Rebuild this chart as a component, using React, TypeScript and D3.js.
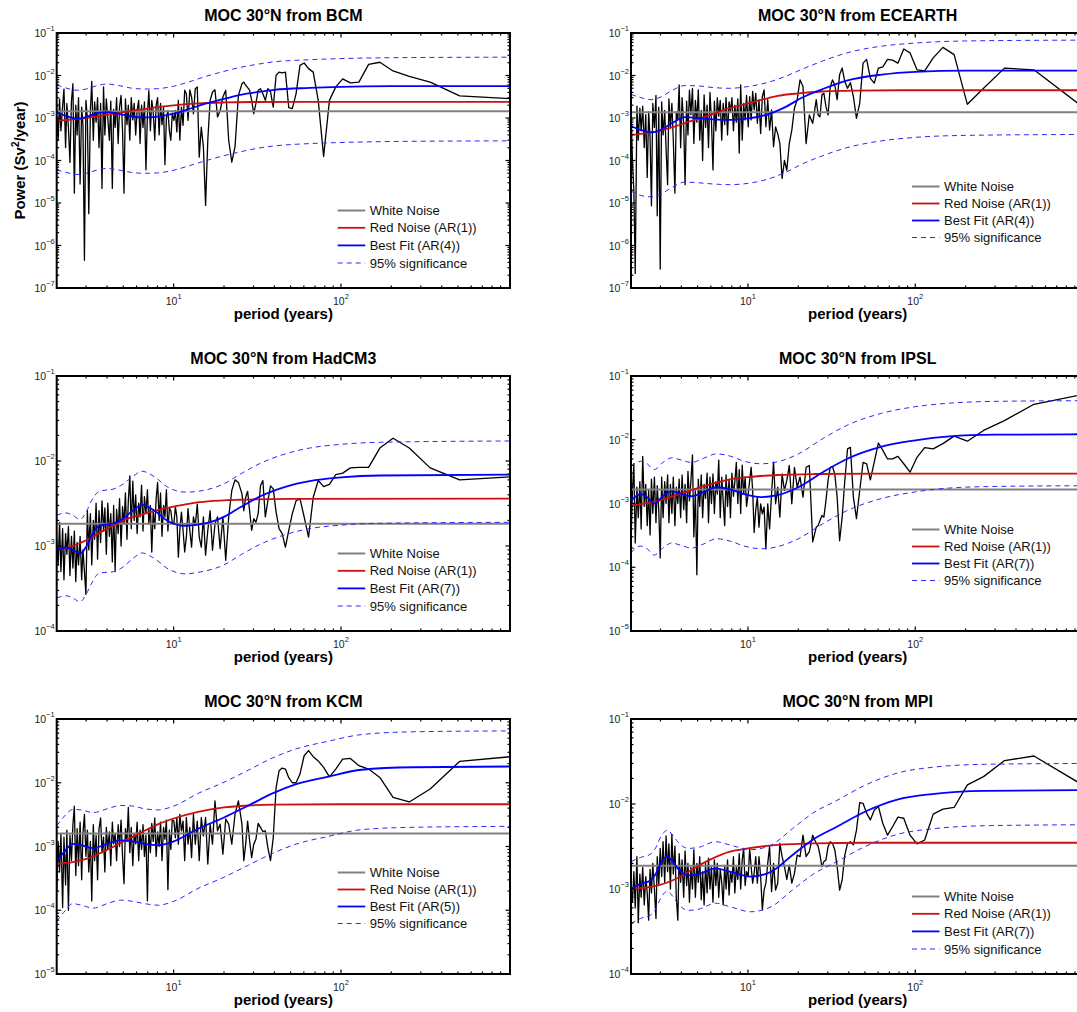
import React from 'react';
import * as d3 from 'd3';

type Pt = [number, number];

// Periods (years) of the spectral estimates, shared by all six models.
const periods: number[] = [
  2.00, 2.04, 2.08, 2.12, 2.17, 2.21, 2.26, 2.30, 2.35, 2.40,
  2.45, 2.50, 2.55, 2.60, 2.65, 2.70, 2.76, 2.82, 2.87, 2.93,
  2.99, 3.05, 3.11, 3.18, 3.24, 3.31, 3.37, 3.44, 3.51, 3.58,
  3.66, 3.73, 3.81, 3.88, 3.96, 4.04, 4.13, 4.21, 4.30, 4.38,
  4.47, 4.56, 4.66, 4.75, 4.85, 4.95, 5.05, 5.15, 5.26, 5.36,
  5.47, 5.58, 5.70, 5.81, 5.93, 6.05, 6.18, 6.30, 6.43, 6.56,
  6.69, 6.83, 6.97, 7.11, 7.26, 7.40, 7.55, 7.71, 7.86, 8.02,
  8.19, 8.35, 8.52, 8.70, 8.87, 9.05, 9.24, 9.43, 9.62, 9.81,
  10.04, 10.24, 10.45, 10.67, 10.89, 11.13, 11.38, 11.64, 11.91, 12.19,
  12.49, 12.80, 13.13, 13.47, 13.84, 14.22, 14.63, 15.06, 15.52, 16.00,
  16.52, 17.07, 17.66, 18.29, 18.96, 19.69, 20.48, 21.33, 22.26, 23.27,
  24.38, 25.60, 26.26, 26.95, 27.68, 28.44, 29.26, 30.12, 31.03, 32.00,
  33.03, 34.13, 35.31, 36.57, 37.93, 39.38, 40.96, 42.67, 44.52, 46.55,
  48.76, 51.20, 53.89, 56.89, 60.24, 64.00, 68.27, 73.14, 78.77, 85.33,
  93.09, 102.4, 113.8, 128.0, 146.3, 170.7, 204.8, 256.0, 341.3, 512.0,
  1024,
];

// Spectral power (Sv^2/year), one value per period.
const bcmPower: number[] = [
  1.2e-3, 3.0e-4, 2.8e-3, 5.0e-4, 1.9e-3, 4.8e-3, 2.0e-4, 2.2e-3, 6.0e-4, 9.0e-5,
  2.5e-3, 6.4e-3, 1.7e-5, 2.0e-3, 4.0e-4, 3.0e-3, 2.8e-5, 1.8e-3, 7.0e-4, 4.5e-7,
  2.6e-3, 1.0e-3, 5.6e-6, 1.5e-3, 7.3e-3, 3.0e-4, 2.4e-3, 8.0e-4, 3.0e-3, 2.0e-4,
  2.2e-3, 2.2e-5, 5.4e-3, 4.0e-4, 2.8e-3, 1.0e-3, 3.0e-4, 2.5e-3, 2.2e-5, 1.6e-3,
  6.0e-4, 3.0e-3, 2.5e-4, 1.8e-3, 3.4e-3, 5.0e-4, 1.7e-5, 2.8e-3, 7.0e-4, 2.0e-3,
  3.0e-4, 3.0e-3, 9.0e-4, 2.2e-3, 4.0e-4, 1.5e-3, 2.6e-3, 2.5e-4, 2.0e-3, 6.0e-4,
  2.4e-3, 6.0e-5, 1.2e-3, 4.4e-3, 5.0e-4, 2.6e-3, 1.4e-3, 3.0e-4, 2.0e-3, 3.0e-3,
  4.0e-4, 2.2e-3, 7.0e-4, 1.8e-3, 8.0e-5, 1.0e-3, 1.5e-3, 5.0e-4, 3.0e-4, 1.3e-3,
  8.8e-4, 1.5e-3, 4.7e-4, 2.6e-3, 3.0e-4, 1.8e-3, 6.7e-4, 4.5e-3, 3.7e-3, 8.8e-4,
  4.6e-3, 3.1e-3, 1.26e-3, 4.9e-3, 5.4e-3, 1.2e-4, 6.1e-4, 2.1e-4, 8.8e-6, 3.0e-4,
  2.6e-3, 4.1e-3, 4.6e-3, 1.06e-3, 1.5e-3, 3.1e-3, 4.5e-3, 3.0e-4, 9.2e-5, 2.1e-4,
  3.4e-3, 6.4e-3, 7.0e-3, 5.9e-3, 5.2e-3, 4.5e-3, 2.6e-3, 1.26e-3, 2.2e-3, 4.5e-3,
  4.9e-3, 3.7e-3, 2.6e-3, 4.9e-3, 4.1e-3, 1.8e-3, 1.01e-2, 1.2e-2, 1.15e-2, 1.2e-2,
  1.75e-3, 1.66e-3, 3.7e-3, 1.73e-2, 1.97e-2, 1.45e-2, 1.2e-2, 2.6e-3, 1.25e-4, 2.6e-3,
  5.4e-3, 8.3e-3, 6.7e-3, 7.0e-3, 1.83e-2, 2.05e-2, 1.28e-2, 9.5e-3, 7.0e-3, 3.3e-3,
  2.85e-3,
];

const ecearthPower: number[] = [
  1.8e-3, 1.0e-4, 2.0e-5, 2.2e-7, 1.9e-3, 3.0e-4, 1.7e-3, 5.0e-4, 1.9e-3, 2.0e-4,
  1.2e-3, 4.0e-5, 1.4e-3, 3.5e-4, 8.6e-6, 2.2e-3, 6.0e-4, 3.4e-3, 5.0e-6, 1.8e-3,
  2.8e-7, 2.4e-3, 4.0e-4, 1.5e-3, 2.0e-4, 2.7e-5, 2.8e-3, 6.0e-4, 2.2e-3, 3.0e-4,
  1.7e-5, 1.4e-3, 9.0e-4, 6.0e-3, 2.0e-4, 3.0e-3, 7.0e-4, 2.7e-5, 2.5e-3, 4.0e-4,
  4.5e-3, 1.2e-3, 5.0e-3, 2.5e-4, 2.6e-3, 8.0e-4, 4.6e-3, 3.0e-4, 1.5e-3, 1.0e-4,
  3.5e-3, 6.0e-4, 2.0e-3, 2.0e-4, 4.0e-3, 9.0e-4, 6.0e-5, 2.5e-3, 5.0e-4, 3.0e-3,
  1.1e-3, 2.6e-3, 3.0e-4, 2.2e-3, 7.0e-4, 3.0e-3, 4.0e-4, 2.4e-3, 1.4e-3, 3.0e-3,
  5.0e-4, 2.0e-3, 8.0e-4, 2.8e-3, 1.5e-4, 6.0e-3, 3.0e-4, 2.2e-3, 9.0e-4, 3.4e-3,
  6.2e-4, 3.2e-3, 9.0e-4, 4.2e-3, 1.55e-3, 3.8e-3, 7.5e-4, 2.7e-3, 4.3e-4, 3.2e-3,
  4.6e-3, 6.2e-4, 2.7e-3, 5.2e-4, 1.55e-3, 2.1e-4, 6.2e-4, 4.3e-4, 2.5e-4, 3.8e-5,
  1.0e-4, 5.9e-5, 2.5e-4, 5.2e-4, 1.7e-3, 2.7e-3, 7.9e-3, 5.5e-3, 2.5e-4, 1.18e-3,
  7.5e-4, 2.7e-3, 1.18e-3, 1.07e-3, 3.5e-3, 3.8e-3, 1.85e-3, 1.18e-3, 5.3e-3, 7.9e-3,
  6.0e-3, 2.7e-3, 1.04e-2, 1.5e-2, 7.2e-3, 5.0e-3, 6.8e-3, 3.2e-3, 9.8e-4, 2.2e-3,
  1.95e-2, 2.4e-2, 8.6e-3, 6.6e-3, 1.5e-2, 1.6e-2, 2.4e-2, 2.3e-2, 1.95e-2, 4.2e-2,
  3.4e-2, 1.36e-2, 1.29e-2, 2.6e-2, 4.6e-2, 3.1e-2, 2.1e-3, 5.0e-3, 1.49e-2, 1.36e-2,
  1.7e-3,
];

const hadcm3Power: number[] = [
  1.2e-3, 6.0e-4, 1.9e-3, 5.0e-4, 1.6e-3, 4.0e-4, 1.4e-3, 8.0e-4, 1.7e-3, 4.5e-4,
  1.3e-3, 5.5e-4, 1.5e-3, 3.8e-4, 1.1e-3, 6.0e-4, 1.3e-3, 4.0e-4, 9.0e-4, 5.0e-4,
  2.7e-4, 2.6e-3, 9.0e-4, 2.4e-3, 6.0e-4, 2.0e-3, 1.2e-3, 3.2e-3, 7.0e-4, 2.6e-3,
  1.1e-3, 3.4e-3, 1.5e-3, 2.8e-3, 8.0e-4, 3.2e-3, 1.3e-3, 2.4e-3, 6.5e-4, 3.0e-3,
  5.0e-4, 2.7e-3, 1.4e-3, 3.6e-3, 1.0e-3, 2.9e-3, 1.8e-3, 4.2e-3, 1.2e-3, 3.4e-3,
  6.7e-3, 1.6e-3, 5.8e-3, 2.0e-3, 4.0e-3, 1.4e-3, 3.2e-3, 2.2e-3, 5.2e-3, 1.5e-3,
  3.8e-3, 2.4e-3, 4.6e-3, 1.8e-3, 3.0e-3, 8.5e-4, 2.6e-3, 1.6e-3, 3.6e-3, 5.6e-3,
  2.0e-3, 4.2e-3, 1.3e-3, 3.0e-3, 2.2e-3, 4.6e-3, 1.5e-3, 2.8e-3, 2.6e-3, 1.9e-3,
  1.83e-3, 2.9e-3, 2.2e-3, 7.4e-4, 1.53e-3, 2.5e-3, 1.53e-3, 8.5e-4, 1.27e-3, 2.75e-3,
  1.53e-3, 9.7e-4, 2.2e-3, 1.75e-3, 3.1e-3, 1.27e-3, 9.7e-4, 2.2e-3, 7.8e-4, 1.53e-3,
  2.6e-3, 8.9e-4, 1.83e-3, 2.2e-3, 9.3e-4, 2.2e-3, 6.8e-4, 2.2e-3, 4.5e-3, 6.0e-3,
  5.6e-3, 4.1e-3, 2.6e-3, 3.75e-3, 4.4e-3, 2.6e-3, 1.53e-3, 2.1e-3, 1.9e-3, 2.4e-3,
  5.1e-3, 5.9e-3, 2.2e-3, 3.4e-3, 5.1e-3, 4.7e-3, 2.5e-3, 1.6e-3, 1.4e-3, 9.7e-4,
  1.53e-3, 2.4e-3, 3.4e-3, 3.6e-3, 2.2e-3, 1.27e-3, 3.75e-3, 5.9e-3, 5.0e-3, 5.3e-3,
  6.9e-3, 7.2e-3, 8.3e-3, 8.4e-3, 8.4e-3, 1.42e-2, 1.85e-2, 1.42e-2, 8.3e-3, 6.0e-3,
  6.5e-3,
];

const ipslPower: number[] = [
  2.6e-4, 1.5e-3, 4.2e-3, 2.4e-4, 1.8e-3, 6.0e-4, 2.2e-3, 4.0e-4, 5.5e-3, 9.0e-4,
  2.0e-3, 4.5e-4, 1.6e-3, 3.2e-4, 2.4e-3, 7.0e-4, 2.6e-3, 5.0e-4, 1.9e-3, 8.0e-4,
  1.4e-4, 2.6e-3, 6.0e-4, 2.2e-3, 1.0e-3, 2.8e-3, 5.0e-4, 2.0e-3, 7.0e-4, 2.6e-3,
  4.5e-4, 1.8e-3, 1.0e-3, 2.4e-3, 6.0e-4, 2.8e-3, 8.0e-4, 2.0e-3, 5.0e-4, 3.2e-3,
  1.1e-3, 2.2e-3, 5.8e-3, 3.0e-4, 1.6e-3, 7.6e-5, 2.4e-3, 9.0e-4, 2.8e-3, 6.0e-4,
  2.0e-3, 1.2e-3, 3.0e-3, 5.0e-4, 2.6e-3, 1.0e-3, 2.9e-3, 7.0e-4, 2.2e-3, 1.4e-3,
  4.8e-3, 6.0e-4, 2.6e-3, 1.1e-3, 4.5e-4, 2.8e-3, 9.0e-4, 2.4e-3, 6.0e-4, 3.0e-3,
  1.3e-3, 2.2e-3, 4.4e-3, 1.0e-3, 3.4e-3, 7.0e-4, 4.0e-3, 1.4e-3, 2.6e-3, 9.0e-4,
  1.42e-3, 2.3e-3, 3.7e-3, 1.6e-3, 3.5e-4, 7.8e-4, 1.26e-3, 4.25e-4, 9.9e-4, 6.9e-4,
  8.8e-4, 1.94e-4, 9.9e-4, 4.0e-4, 1.42e-3, 4.46e-3, 9.9e-4, 1.8e-3, 6.1e-4, 2.9e-3,
  1.6e-3, 2.3e-3, 3.95e-3, 9.9e-4, 3.7e-3, 1.8e-3, 2.6e-3, 1.26e-3, 3.7e-3, 3.95e-3,
  2.5e-4, 4.25e-4, 4.5e-4, 5.4e-4, 6.5e-4, 6.1e-4, 1.11e-3, 2.3e-3, 3.7e-3, 3.8e-3,
  2.9e-3, 1.26e-3, 2.6e-4, 6.1e-4, 2.3e-3, 7.2e-3, 7.6e-3, 1.26e-3, 5.8e-4, 1.6e-3,
  4.4e-3, 4.2e-3, 2.35e-3, 4.5e-3, 8.9e-3, 6.8e-3, 5.0e-3, 5.0e-3, 5.5e-3, 4.2e-3,
  3.1e-3, 5.3e-3, 7.5e-3, 7.2e-3, 8.7e-3, 1.14e-2, 9.5e-3, 1.4e-2, 2.0e-2, 3.6e-2,
  5.2e-2,
];

const kcmPower: number[] = [
  2.0e-4, 1.2e-3, 4.0e-4, 1.6e-3, 1.1e-4, 1.4e-3, 2.5e-4, 1.8e-3, 1.0e-4, 1.5e-3,
  6.0e-4, 2.2e-3, 4.3e-3, 3.5e-4, 1.9e-3, 5.0e-4, 2.4e-3, 3.0e-4, 1.6e-3, 3.2e-3,
  7.0e-4, 1.8e-3, 4.0e-4, 1.2e-3, 1.4e-4, 2.2e-3, 6.0e-4, 1.5e-3, 3.0e-4, 1.9e-3,
  2.8e-3, 8.0e-4, 1.4e-3, 4.0e-4, 2.0e-3, 9.0e-4, 1.7e-3, 5.0e-4, 2.4e-3, 1.1e-3,
  1.6e-3, 6.0e-4, 2.2e-3, 1.0e-3, 2.6e-3, 7.0e-4, 2.6e-4, 1.9e-3, 1.2e-3, 4.1e-3,
  8.0e-4, 2.0e-3, 5.0e-4, 1.6e-3, 1.1e-3, 2.4e-3, 6.0e-4, 1.8e-3, 9.0e-4, 2.2e-3,
  7.0e-4, 1.5e-3, 1.4e-4, 1.9e-3, 8.0e-4, 2.3e-3, 1.2e-3, 2.8e-3, 7.0e-4, 1.7e-3,
  1.0e-3, 2.4e-3, 6.0e-4, 2.0e-3, 1.3e-3, 2.6e-3, 2.1e-4, 1.8e-3, 9.0e-4, 2.6e-3,
  2.5e-3, 1.38e-3, 2.85e-3, 1.09e-3, 3.2e-3, 1.76e-3, 2.5e-3, 6.0e-4, 2.85e-3, 1.09e-3,
  2.0e-3, 6.7e-4, 3.2e-3, 1.09e-3, 2.5e-3, 6.0e-4, 2.85e-3, 1.47e-3, 2.85e-3, 5.3e-4,
  2.24e-3, 1.09e-3, 5.2e-3, 1.76e-3, 2.24e-3, 7.6e-4, 2.7e-3, 2.24e-3, 1.09e-3, 3.2e-3,
  5.2e-3, 2.24e-3, 6.0e-4, 1.09e-3, 2.5e-3, 1.23e-3, 6.7e-4, 1.09e-3, 1.3e-3, 2.3e-3,
  2.0e-3, 1.72e-3, 1.76e-3, 9.6e-4, 6.0e-4, 1.38e-3, 8.4e-3, 1.54e-2, 1.7e-2, 1.64e-2,
  1.2e-2, 1.0e-2, 1.0e-2, 1.37e-2, 2.65e-2, 3.2e-2, 2.56e-2, 2.2e-2, 1.74e-2, 1.24e-2,
  1.64e-2, 2.35e-2, 2.41e-2, 1.85e-2, 1.64e-2, 1.21e-2, 5.9e-3, 5.0e-3, 8.0e-3, 2.16e-2,
  2.56e-2,
];

const mpiPower: number[] = [
  1.1e-3, 7.0e-4, 1.6e-3, 6.0e-4, 2.4e-3, 4.0e-4, 1.5e-3, 8.0e-4, 1.8e-3, 6.5e-4,
  1.4e-3, 9.0e-4, 4.3e-4, 1.7e-3, 9.0e-4, 2.0e-3, 1.0e-3, 4.5e-4, 2.4e-3, 1.1e-3,
  3.0e-3, 1.4e-3, 3.6e-3, 1.2e-3, 4.2e-3, 1.6e-3, 3.4e-3, 1.0e-3, 4.4e-3, 1.5e-3,
  3.2e-3, 8.0e-4, 4.3e-4, 2.6e-3, 1.2e-3, 2.2e-3, 8.0e-4, 2.8e-3, 1.1e-3, 2.0e-3,
  7.0e-4, 1.8e-3, 1.0e-3, 2.9e-3, 8.0e-4, 2.0e-3, 1.2e-3, 2.4e-3, 7.5e-4, 1.6e-3,
  6.5e-4, 2.0e-3, 9.0e-4, 2.3e-3, 1.0e-3, 1.8e-3, 7.0e-4, 2.2e-3, 1.1e-3, 2.0e-3,
  8.0e-4, 1.7e-3, 1.2e-3, 6.5e-4, 1.9e-3, 1.0e-3, 2.2e-3, 8.5e-4, 1.6e-3, 1.2e-3,
  2.4e-3, 9.0e-4, 1.8e-3, 1.3e-3, 2.6e-3, 1.0e-3, 2.2e-3, 3.0e-3, 1.1e-3, 1.6e-3,
  1.4e-3, 3.0e-3, 1.83e-3, 1.17e-3, 1.53e-3, 2.4e-3, 1.17e-3, 2.4e-3, 1.4e-3, 5.7e-4,
  9.7e-4, 1.17e-3, 2.0e-3, 3.15e-3, 9.3e-4, 2.0e-3, 9.7e-4, 1.17e-3, 3.44e-3, 2.4e-3,
  1.83e-3, 1.3e-3, 1.91e-3, 1.17e-3, 1.53e-3, 2.5e-3, 2.4e-3, 4.3e-3, 2.4e-3, 2.75e-3,
  4.3e-3, 3.44e-3, 3.2e-3, 2.5e-3, 1.83e-3, 2.1e-3, 2.2e-3, 3.15e-3, 3.6e-3, 3.44e-3,
  2.9e-3, 1.83e-3, 9.7e-4, 1.28e-3, 2.5e-3, 3.44e-3, 3.6e-3, 3.3e-3, 4.9e-3, 1.04e-2,
  1.02e-2, 7.8e-3, 6.5e-3, 8.5e-3, 9.3e-3, 5.9e-3, 4.3e-3, 5.4e-3, 7.0e-3, 6.8e-3,
  4.3e-3, 3.4e-3, 3.77e-3, 7.6e-3, 8.7e-3, 9.1e-3, 1.68e-2, 2.1e-2, 3.24e-2, 3.67e-2,
  1.63e-2,
];

// Fitted noise spectra: [period, power]
const bcmWhite = 1.44e-3;
const bcmRed: Pt[] = [[2, 8.6e-4], [3, 1.0e-3], [4, 1.2e-3], [5, 1.38e-3], [6.5, 1.6e-3], [8, 1.8e-3], [10, 1.98e-3], [14, 2.2e-3], [20, 2.32e-3], [30, 2.38e-3], [60, 2.4e-3], [1024, 2.4e-3]];
const bcmFit: Pt[] = [[2, 1.35e-3], [2.3, 1.1e-3], [2.65, 9.6e-4], [3.0, 1.05e-3], [3.5, 1.3e-3], [4.0, 1.38e-3], [4.7, 1.25e-3], [5.5, 1.1e-3], [6.7, 1.03e-3], [8, 1.08e-3], [10, 1.27e-3], [12.5, 1.65e-3], [15.7, 2.2e-3], [20, 2.8e-3], [25, 3.5e-3], [32, 4.1e-3], [40, 4.6e-3], [65, 5.1e-3], [100, 5.4e-3], [200, 5.6e-3], [1024, 5.65e-3]];
const bcmUpper: Pt[] = [[2, 6.0e-3], [2.3, 5.0e-3], [2.65, 4.5e-3], [3.0, 4.8e-3], [3.5, 5.8e-3], [4.0, 6.3e-3], [4.7, 5.8e-3], [5.5, 5.1e-3], [6.7, 4.8e-3], [8, 4.9e-3], [10, 5.6e-3], [12.5, 7.2e-3], [15.7, 9.6e-3], [20, 1.25e-2], [25, 1.55e-2], [32, 1.85e-2], [40, 2.1e-2], [65, 2.35e-2], [100, 2.5e-2], [200, 2.62e-2], [1024, 2.7e-2]];
const bcmLower: Pt[] = [[2, 6.0e-5], [2.3, 5.2e-5], [2.65, 4.7e-5], [3.0, 5.0e-5], [3.5, 6.0e-5], [4.0, 6.5e-5], [4.7, 6.0e-5], [5.5, 5.3e-5], [6.7, 5.0e-5], [8, 5.1e-5], [10, 5.9e-5], [12.5, 7.6e-5], [15.7, 1.0e-4], [20, 1.3e-4], [25, 1.6e-4], [32, 1.95e-4], [40, 2.2e-4], [65, 2.5e-4], [100, 2.65e-4], [200, 2.8e-4], [1024, 2.9e-4]];

const ecearthWhite = 1.36e-3;
const ecearthRed: Pt[] = [[2, 4.0e-4], [2.6, 4.5e-4], [3.6, 6.2e-4], [4.5, 8.3e-4], [5.9, 1.17e-3], [7.5, 1.65e-3], [10, 2.2e-3], [12.6, 2.8e-3], [15, 3.3e-3], [20, 3.8e-3], [28, 4.2e-3], [45, 4.4e-3], [100, 4.5e-3], [1024, 4.5e-3]];
const ecearthFit: Pt[] = [[2, 6.5e-4], [2.3, 5.2e-4], [2.64, 4.6e-4], [3.0, 5.2e-4], [3.5, 7.5e-4], [4.2, 1.05e-3], [5.0, 1.0e-3], [6.2, 9.3e-4], [7.8, 9.0e-4], [10, 9.8e-4], [13, 1.2e-3], [16.7, 1.8e-3], [21, 3.0e-3], [28, 4.8e-3], [39, 7.6e-3], [63, 1.05e-2], [100, 1.22e-2], [200, 1.3e-2], [1024, 1.3e-2]];
const ecearthUpper: Pt[] = [[2, 3.6e-3], [2.3, 3.0e-3], [2.64, 2.7e-3], [3.0, 3.1e-3], [3.5, 4.4e-3], [4.2, 5.8e-3], [5.0, 5.7e-3], [6.2, 5.2e-3], [7.8, 5.0e-3], [10, 5.5e-3], [13, 6.8e-3], [16.7, 9.5e-3], [21, 1.4e-2], [28, 2.2e-2], [39, 3.4e-2], [63, 4.9e-2], [100, 5.8e-2], [200, 6.5e-2], [1024, 6.8e-2]];
const ecearthLower: Pt[] = [[2, 1.9e-5], [2.3, 1.5e-5], [2.64, 1.4e-5], [3.0, 1.6e-5], [3.5, 2.3e-5], [4.2, 3.1e-5], [5.0, 3.0e-5], [6.2, 2.8e-5], [7.8, 2.7e-5], [10, 2.9e-5], [13, 3.6e-5], [16.7, 5.2e-5], [21, 8.2e-5], [28, 1.3e-4], [39, 2.0e-4], [63, 2.9e-4], [100, 3.5e-4], [200, 3.9e-4], [1024, 4.1e-4]];

const hadcm3White = 1.83e-3;
const hadcm3Red: Pt[] = [[2, 8.9e-4], [2.5, 1.0e-3], [3, 1.17e-3], [4, 1.6e-3], [5, 2.0e-3], [6.7, 2.4e-3], [8, 2.65e-3], [10, 2.9e-3], [13, 3.2e-3], [16, 3.35e-3], [25, 3.5e-3], [50, 3.58e-3], [1024, 3.6e-3]];
const hadcm3Fit: Pt[] = [[2, 8.9e-4], [2.26, 9.6e-4], [2.5, 9.0e-4], [2.75, 8.1e-4], [3.0, 9.8e-4], [3.2, 1.27e-3], [3.6, 1.75e-3], [4.4, 1.85e-3], [4.8, 2.0e-3], [5.9, 2.75e-3], [6.4, 3.05e-3], [7.7, 2.6e-3], [9.1, 2.0e-3], [11.8, 1.73e-3], [14, 1.78e-3], [20, 2.2e-3], [25, 2.85e-3], [33, 3.85e-3], [47, 5.0e-3], [65, 5.8e-3], [100, 6.4e-3], [170, 6.75e-3], [1024, 6.9e-3]];
const hadcm3Upper: Pt[] = [[2, 2.3e-3], [2.26, 2.45e-3], [2.5, 2.3e-3], [2.75, 2.05e-3], [3.0, 2.5e-3], [3.2, 3.3e-3], [3.6, 4.4e-3], [4.4, 4.7e-3], [4.8, 5.1e-3], [5.9, 6.9e-3], [6.4, 7.6e-3], [7.7, 6.5e-3], [9.1, 5.0e-3], [11.8, 4.3e-3], [14, 4.4e-3], [20, 5.4e-3], [25, 7.0e-3], [33, 9.4e-3], [47, 1.22e-2], [65, 1.42e-2], [100, 1.57e-2], [170, 1.66e-2], [1024, 1.72e-2]];
const hadcm3Lower: Pt[] = [[2, 2.45e-4], [2.26, 2.6e-4], [2.5, 2.45e-4], [2.75, 2.2e-4], [3.0, 2.7e-4], [3.2, 3.5e-4], [3.6, 4.8e-4], [4.4, 5.0e-4], [4.8, 5.4e-4], [5.9, 7.5e-4], [6.4, 8.3e-4], [7.7, 7.1e-4], [9.1, 5.5e-4], [11.8, 4.7e-4], [14, 4.9e-4], [20, 6.0e-4], [25, 7.8e-4], [33, 1.05e-3], [47, 1.37e-3], [65, 1.6e-3], [100, 1.76e-3], [170, 1.85e-3], [1024, 1.9e-3]];

const ipslWhite = 1.66e-3;
const ipslRed: Pt[] = [[2, 9.3e-4], [2.9, 1.1e-3], [4.2, 1.5e-3], [5.9, 2.0e-3], [7.9, 2.4e-3], [10, 2.6e-3], [15, 2.8e-3], [25, 2.9e-3], [60, 2.95e-3], [1024, 2.95e-3]];
const ipslFit: Pt[] = [[2, 1.1e-3], [2.28, 1.4e-3], [2.5, 1.25e-3], [2.75, 1.0e-3], [3.1, 1.3e-3], [3.5, 1.55e-3], [4.0, 1.42e-3], [4.6, 1.3e-3], [5.4, 1.5e-3], [6.5, 1.8e-3], [7.9, 1.65e-3], [9.5, 1.4e-3], [12, 1.26e-3], [15, 1.35e-3], [20, 1.8e-3], [28, 3.1e-3], [39, 5.0e-3], [63, 7.8e-3], [100, 9.8e-3], [160, 1.13e-2], [300, 1.2e-2], [1024, 1.22e-2]];
const ipslUpper: Pt[] = [[2, 3.8e-3], [2.28, 4.6e-3], [2.5, 4.2e-3], [2.75, 3.4e-3], [3.1, 4.4e-3], [3.5, 5.2e-3], [4.0, 4.8e-3], [4.6, 4.4e-3], [5.4, 5.1e-3], [6.5, 6.0e-3], [7.9, 5.5e-3], [9.5, 4.6e-3], [12, 4.2e-3], [15, 4.5e-3], [20, 6.0e-3], [28, 1.04e-2], [39, 1.68e-2], [63, 2.6e-2], [100, 3.3e-2], [160, 3.75e-2], [300, 4.0e-2], [1024, 4.1e-2]];
const ipslLower: Pt[] = [[2, 1.7e-4], [2.28, 2.15e-4], [2.5, 1.95e-4], [2.75, 1.55e-4], [3.1, 2.0e-4], [3.5, 2.4e-4], [4.0, 2.2e-4], [4.6, 2.0e-4], [5.4, 2.3e-4], [6.5, 2.8e-4], [7.9, 2.55e-4], [9.5, 2.15e-4], [12, 1.95e-4], [15, 2.1e-4], [20, 2.8e-4], [28, 4.8e-4], [39, 7.7e-4], [63, 1.2e-3], [100, 1.52e-3], [160, 1.75e-3], [300, 1.85e-3], [1024, 1.9e-3]];

const kcmWhite = 1.6e-3;
const kcmRed: Pt[] = [[2, 5.4e-4], [2.5, 5.7e-4], [3, 6.4e-4], [3.5, 7.5e-4], [4.4, 1.0e-3], [5, 1.2e-3], [6.1, 1.56e-3], [8.1, 2.25e-3], [10, 2.75e-3], [14, 3.5e-3], [20, 4.1e-3], [28, 4.4e-3], [40, 4.55e-3], [100, 4.6e-3], [1024, 4.6e-3]];
const kcmFit: Pt[] = [[2, 5.8e-4], [2.2, 8.0e-4], [2.5, 1.1e-3], [2.8, 1.05e-3], [3.3, 9.4e-4], [4.0, 1.1e-3], [4.8, 1.25e-3], [5.7, 1.2e-3], [6.7, 1.1e-3], [8.1, 1.05e-3], [10, 1.2e-3], [14, 1.9e-3], [20, 2.85e-3], [28, 4.4e-3], [39, 6.8e-3], [54, 9.5e-3], [83, 1.24e-2], [133, 1.6e-2], [270, 1.75e-2], [1024, 1.8e-2]];
const kcmUpper: Pt[] = [[2, 2.1e-3], [2.2, 2.9e-3], [2.5, 3.8e-3], [2.8, 3.75e-3], [3.3, 3.4e-3], [4.0, 3.9e-3], [4.8, 4.4e-3], [5.7, 4.3e-3], [6.7, 3.9e-3], [8.1, 3.75e-3], [10, 4.3e-3], [14, 6.8e-3], [20, 1.02e-2], [28, 1.58e-2], [39, 2.45e-2], [54, 3.4e-2], [83, 4.45e-2], [133, 5.7e-2], [270, 6.3e-2], [1024, 6.5e-2]];
const kcmLower: Pt[] = [[2, 6.7e-5], [2.2, 9.2e-5], [2.5, 1.27e-4], [2.8, 1.2e-4], [3.3, 1.08e-4], [4.0, 1.27e-4], [4.8, 1.44e-4], [5.7, 1.38e-4], [6.7, 1.27e-4], [8.1, 1.2e-4], [10, 1.38e-4], [14, 2.2e-4], [20, 3.3e-4], [28, 5.1e-4], [39, 7.8e-4], [54, 1.09e-3], [83, 1.43e-3], [133, 1.84e-3], [270, 2.0e-3], [1024, 2.07e-3]];

const mpiWhite = 1.88e-3;
const mpiRed: Pt[] = [[2, 1.0e-3], [2.9, 1.1e-3], [3.5, 1.25e-3], [4.2, 1.5e-3], [5.0, 1.85e-3], [5.9, 2.2e-3], [7.8, 2.75e-3], [10, 3.0e-3], [15, 3.3e-3], [25, 3.45e-3], [50, 3.5e-3], [1024, 3.5e-3]];
const mpiFit: Pt[] = [[2, 1.0e-3], [2.28, 1.15e-3], [2.6, 1.25e-3], [2.78, 1.45e-3], [3.05, 2.1e-3], [3.3, 2.4e-3], [3.55, 2.1e-3], [3.8, 1.75e-3], [4.4, 1.45e-3], [5.1, 1.5e-3], [6.4, 1.75e-3], [7.8, 1.6e-3], [10.4, 1.4e-3], [13.8, 1.6e-3], [18.4, 2.5e-3], [24.4, 3.8e-3], [34, 5.4e-3], [50, 8.1e-3], [80, 1.14e-2], [126, 1.31e-2], [260, 1.43e-2], [1024, 1.46e-2]];
const mpiUpper: Pt[] = [[2, 2.1e-3], [2.28, 2.35e-3], [2.6, 2.55e-3], [2.78, 2.95e-3], [3.05, 4.3e-3], [3.3, 4.9e-3], [3.55, 4.3e-3], [3.8, 3.6e-3], [4.4, 3.0e-3], [5.1, 3.1e-3], [6.4, 3.6e-3], [7.8, 3.3e-3], [10.4, 2.9e-3], [13.8, 3.3e-3], [18.4, 5.1e-3], [24.4, 7.8e-3], [34, 1.1e-2], [50, 1.66e-2], [80, 2.34e-2], [126, 2.7e-2], [260, 2.93e-2], [1024, 3.0e-2]];
const mpiLower: Pt[] = [[2, 3.9e-4], [2.28, 4.5e-4], [2.6, 4.9e-4], [2.78, 5.6e-4], [3.05, 8.2e-4], [3.3, 9.4e-4], [3.55, 8.2e-4], [3.8, 6.8e-4], [4.4, 5.6e-4], [5.1, 5.8e-4], [6.4, 6.8e-4], [7.8, 6.2e-4], [10.4, 5.4e-4], [13.8, 6.2e-4], [18.4, 9.7e-4], [24.4, 1.48e-3], [34, 2.1e-3], [50, 3.15e-3], [80, 4.45e-3], [126, 5.1e-3], [260, 5.55e-3], [1024, 5.7e-3]];

const xMajorTicks = [10, 100];
const legendLabels = ['White Noise', 'Red Noise (AR(1))', '', '95% significance'];

interface PanelSpec {
  title: string;
  fitLabel: string;
  power: number[];
  white: number;
  red: Pt[];
  fit: Pt[];
  upper: Pt[];
  lower: Pt[];
  yMin: number;
  legendHigh: boolean;
}

const panels: PanelSpec[] = [
  { title: 'MOC 30°N from BCM', fitLabel: 'Best Fit (AR(4))', power: bcmPower, white: bcmWhite, red: bcmRed, fit: bcmFit, upper: bcmUpper, lower: bcmLower, yMin: 1e-7, legendHigh: false },
  { title: 'MOC 30°N from ECEARTH', fitLabel: 'Best Fit (AR(4))', power: ecearthPower, white: ecearthWhite, red: ecearthRed, fit: ecearthFit, upper: ecearthUpper, lower: ecearthLower, yMin: 1e-7, legendHigh: true },
  { title: 'MOC 30°N from HadCM3', fitLabel: 'Best Fit (AR(7))', power: hadcm3Power, white: hadcm3White, red: hadcm3Red, fit: hadcm3Fit, upper: hadcm3Upper, lower: hadcm3Lower, yMin: 1e-4, legendHigh: false },
  { title: 'MOC 30°N from IPSL', fitLabel: 'Best Fit (AR(7))', power: ipslPower, white: ipslWhite, red: ipslRed, fit: ipslFit, upper: ipslUpper, lower: ipslLower, yMin: 1e-5, legendHigh: true },
  { title: 'MOC 30°N from KCM', fitLabel: 'Best Fit (AR(5))', power: kcmPower, white: kcmWhite, red: kcmRed, fit: kcmFit, upper: kcmUpper, lower: kcmLower, yMin: 1e-5, legendHigh: true },
  { title: 'MOC 30°N from MPI', fitLabel: 'Best Fit (AR(7))', power: mpiPower, white: mpiWhite, red: mpiRed, fit: mpiFit, upper: mpiUpper, lower: mpiLower, yMin: 1e-4, legendHigh: false },
];

const FONT = '"Liberation Sans", Arial, Helvetica, sans-serif';
const WIDTH = 1077;
const HEIGHT = 1012;
const PLOT_W = 453.3;
const PLOT_H = 255;
const COL_X = [56.7, 631];
const ROW_Y = [33, 376, 719];
const X_DOMAIN: [number, number] = [2, 1024];

const GRAY = '#808080';
const RED = '#cc1010';
const BLUE = '#0000ff';
const DASH_BLUE = '#2a2aff';

function Panel({ spec, idx }: { spec: PanelSpec; idx: number }) {
  const left = COL_X[idx % 2];
  const top = ROW_Y[Math.floor(idx / 2)];
  const right = left + PLOT_W;
  const bottom = top + PLOT_H;
  const cx = (left + right) / 2;

  const x = d3.scaleLog().domain(X_DOMAIN).range([left, right]);
  const y = d3.scaleLog().domain([spec.yMin, 0.1]).range([bottom, top]);

  const raw = d3.line<Pt>().x(d => x(d[0])).y(d => y(d[1]));
  const smooth = d3.line<Pt>().x(d => x(d[0])).y(d => y(d[1])).curve(d3.curveMonotoneX);

  const n = Math.min(periods.length, spec.power.length);
  const spectrum: Pt[] = d3.range(n).map(i => [periods[i], spec.power[i]] as Pt);
  const whiteLine: Pt[] = [[X_DOMAIN[0], spec.white], [X_DOMAIN[1], spec.white]];

  const minExp = Math.round(Math.log10(spec.yMin));
  const yMajor: number[] = d3.range(minExp, 0).map(e => Math.pow(10, e));
  const yMinor: number[] = [];
  for (let e = minExp; e < -1; e++) for (let m = 2; m <= 9; m++) yMinor.push(m * Math.pow(10, e));
  const xMinor: number[] = [];
  [1, 10, 100].forEach(base => {
    for (let m = 2; m <= 9; m++) {
      const v = m * base;
      if (v > X_DOMAIN[0] && v < X_DOMAIN[1]) xMinor.push(v);
    }
  });

  const clipId = `plot-clip-${idx}`;
  const legendRows = spec.legendHigh ? [101.5, 84.5, 67.5, 50.5] : [77.5, 60.2, 42.6, 25];
  const legendItems = [
    { label: legendLabels[0], color: GRAY, width: 2, dash: undefined as string | undefined },
    { label: legendLabels[1], color: RED, width: 1.8, dash: undefined },
    { label: spec.fitLabel, color: BLUE, width: 1.8, dash: undefined },
    { label: legendLabels[3], color: DASH_BLUE, width: 1, dash: '5,4' },
  ];

  const majorLen = 4.5;
  const minorLen = 2.5;

  return (
    <g>
      <defs>
        <clipPath id={clipId}>
          <rect x={left} y={top} width={PLOT_W} height={PLOT_H} />
        </clipPath>
      </defs>

      <g clipPath={`url(#${clipId})`} fill="none">
        <path d={raw(spectrum) ?? ''} stroke="#000" strokeWidth={1.3} strokeLinejoin="round" />
        <path d={raw(whiteLine) ?? ''} stroke={GRAY} strokeWidth={2} />
        <path d={smooth(spec.red) ?? ''} stroke={RED} strokeWidth={1.8} />
        <path d={smooth(spec.fit) ?? ''} stroke={BLUE} strokeWidth={1.8} />
        <path d={smooth(spec.upper) ?? ''} stroke={DASH_BLUE} strokeWidth={1} strokeDasharray="5,4" />
        <path d={smooth(spec.lower) ?? ''} stroke={DASH_BLUE} strokeWidth={1} strokeDasharray="5,4" />
      </g>

      {/* ticks on all four sides, pointing inward */}
      <g stroke="#000" strokeWidth={1.2}>
        {xMajorTicks.map(v => (
          <g key={`xM${v}`}>
            <line x1={x(v)} x2={x(v)} y1={bottom} y2={bottom - majorLen} />
            <line x1={x(v)} x2={x(v)} y1={top} y2={top + majorLen} />
          </g>
        ))}
        {xMinor.map(v => (
          <g key={`xm${v}`}>
            <line x1={x(v)} x2={x(v)} y1={bottom} y2={bottom - minorLen} />
            <line x1={x(v)} x2={x(v)} y1={top} y2={top + minorLen} />
          </g>
        ))}
        {yMajor.map(v => (
          <g key={`yM${v}`}>
            <line x1={left} x2={left + majorLen} y1={y(v)} y2={y(v)} />
            <line x1={right} x2={right - majorLen} y1={y(v)} y2={y(v)} />
          </g>
        ))}
        {yMinor.map(v => (
          <g key={`ym${v}`}>
            <line x1={left} x2={left + minorLen} y1={y(v)} y2={y(v)} />
            <line x1={right} x2={right - minorLen} y1={y(v)} y2={y(v)} />
          </g>
        ))}
      </g>

      <rect x={left} y={top} width={PLOT_W} height={PLOT_H} fill="none" stroke="#000" strokeWidth={2} />

      {/* tick labels */}
      <g fontFamily={FONT} fill="#222">
        {yMajor.map(v => {
          const e = Math.round(Math.log10(v));
          return (
            <text key={`yl${v}`} x={left - 2} y={y(v) + 4} textAnchor="end" fontSize={10.5}>
              <tspan>10</tspan>
              <tspan fontSize={7.5} dy={-6}>{`\u2212${Math.abs(e)}`}</tspan>
            </text>
          );
        })}
        {xMajorTicks.map(v => (
          <text key={`xl${v}`} x={x(v)} y={bottom + 17} textAnchor="middle" fontSize={10.5}>
            <tspan>10</tspan>
            <tspan fontSize={7.5} dy={-6}>{String(Math.round(Math.log10(v)))}</tspan>
          </text>
        ))}
      </g>

      <text x={cx} y={top - 12} textAnchor="middle" fontFamily={FONT} fontWeight="bold" fontSize={16} fill="#000">
        {spec.title}
      </text>
      <text x={cx} y={bottom + 31} textAnchor="middle" fontFamily={FONT} fontWeight="bold" fontSize={15} fill="#000">
        period (years)
      </text>

      {idx === 0 && (
        <text
          transform={`translate(25, ${top + PLOT_H / 2}) rotate(-90)`}
          textAnchor="middle"
          fontFamily={FONT}
          fontWeight="bold"
          fontSize={15}
          fill="#000"
        >
          <tspan>Power (Sv</tspan>
          <tspan fontSize={10} dy={-6}>2</tspan>
          <tspan dy={6}>/year)</tspan>
        </text>
      )}

      {/* legend */}
      <g fontFamily={FONT} fontSize={13} fill="#111">
        {legendItems.map((it, i) => {
          const ly = bottom - legendRows[i];
          return (
            <g key={it.label}>
              <line x1={left + 281} x2={left + 308.5} y1={ly} y2={ly} stroke={it.color} strokeWidth={it.width} strokeDasharray={it.dash} />
              <text x={left + 313} y={ly + 4.6}>{it.label}</text>
            </g>
          );
        })}
      </g>
    </g>
  );
}

export default function App() {
  return (
    <svg
      width={WIDTH}
      height={HEIGHT}
      viewBox={`0 0 ${WIDTH} ${HEIGHT}`}
      style={{ position: 'absolute', left: 0, top: 0, display: 'block' }}
    >
      <rect x={0} y={0} width={WIDTH} height={HEIGHT} fill="#fff" />
      {panels.map((p, i) => (
        <Panel key={p.title} spec={p} idx={i} />
      ))}
    </svg>
  );
}
